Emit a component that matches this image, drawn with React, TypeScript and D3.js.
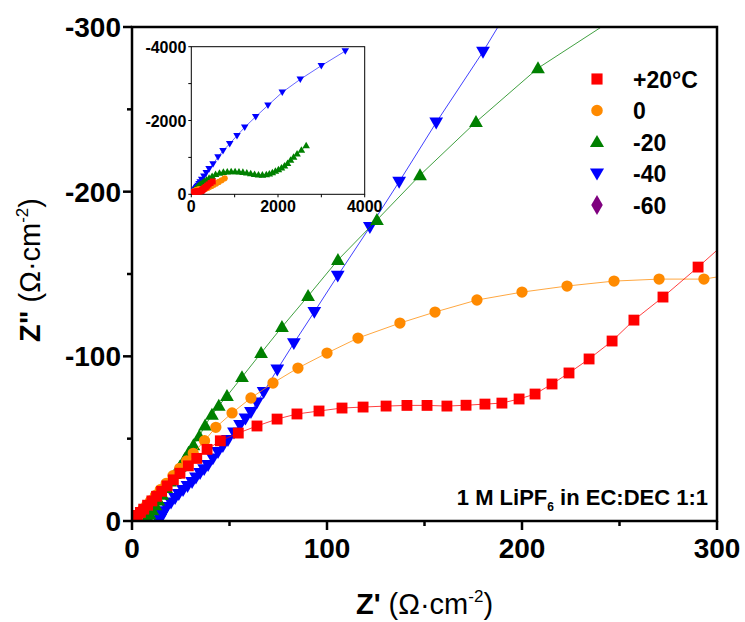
import React from "react";
import * as d3 from "d3";

type P = [number, number];

// Z' (Ω·cm-2), Z'' (Ω·cm-2; negative values)
const seriesNames = ["+20°C", "0", "-20", "-40", "-60"];
const seriesColors = ["#ff0000", "#ff8a00", "#008000", "#0000ff", "#7f007f"];
const seriesShapes = ["square", "circle", "triangle", "triangleDown", "diamond"];

const red: P[] = [
  [0.5, 0.4], [1.5, 1.8], [2.8, 3.4], [4.3, 5.2], [6, 7.2], [8, 9.6], [10.2, 12.2], [12.6, 15],
  [15.2, 18], [18, 21.3], [21.2, 25], [24.6, 29], [28.9, 33.5], [33.2, 38], [38.5, 43.5],
  [45.3, 48.7], [54.5, 53.4], [64.1, 57.7], [74.4, 61.9], [84.6, 65], [95.9, 66.8], [107.7, 68.6],
  [118.5, 69.2], [130.3, 69.8], [141, 70.2], [151.3, 70.2], [161.5, 69.8], [171.3, 70.3], [181, 71],
  [189.7, 71.6], [198.5, 74.1], [206.7, 77.1], [215.4, 83.2], [224.1, 89.9], [234.4, 98.4],
  [246.2, 109.3], [257.4, 122], [272.3, 136], [290.3, 154.2], [310, 175], [335, 200], [365, 232],
  [400, 268], [445, 305], [495, 345],
].map(([a, b]) => [a, -b] as P);

const orange: P[] = [
  [0.5, 0.3], [1.3, 1.5], [2.5, 3], [4, 5], [5.5, 7], [7.5, 9.5], [9.5, 12.2], [12, 15.5],
  [14.5, 19], [17.5, 22.8], [21, 27.5], [24.5, 32], [28, 36.5], [31.4, 41.1], [37.2, 48.8],
  [43, 56.9], [51.3, 65.6], [61, 74.7], [72.3, 83.8], [85.1, 92.9], [100, 102], [115.9, 111.1],
  [137.4, 120.2], [155.4, 126.9], [176.9, 134.2], [200, 139], [223.1, 142.7], [247.2, 145.7],
  [270.3, 146.9], [293.3, 146.9], [320, 152], [350, 163], [385, 180], [425, 202], [470, 228],
  [520, 258], [575, 295], [635, 335], [700, 380], [770, 432],
].map(([a, b]) => [a, -b] as P);

const green: P[] = [
  [7, 0.3], [8, 2], [9, 4], [10.5, 6.5], [12, 9.5], [13.5, 12.5], [15.5, 16], [17.5, 20], [19.5, 24],
  [22, 28.5], [24.5, 33], [27, 37.5], [29, 41.5], [31.5, 46], [34.5, 51.5], [37.5, 58], [41, 64.5],
  [44.5, 70], [48.7, 75.9], [56.4, 87.4], [66.2, 102], [76.9, 117.8], [90.3, 136.6], [105.6, 158.5],
  [125.6, 182.8], [147.7, 210], [176.4, 242.3], [208.2, 275], [255, 311], [300, 350], [350, 390],
  [410, 440], [480, 490], [560, 540], [650, 575], [740, 600], [830, 612], [920, 618], [1010, 618],
  [1100, 612], [1190, 600], [1280, 585], [1370, 565], [1460, 545], [1550, 530], [1640, 525],
  [1730, 535], [1800, 555], [1870, 590], [1940, 630], [2010, 670], [2080, 720], [2150, 775],
  [2220, 840], [2290, 930], [2360, 1010], [2440, 1100], [2540, 1200], [2650, 1320],
].map(([a, b]) => [a, -b] as P);

const blue: P[] = [
  [13.5, 0.3], [14.5, 1.2], [15.4, 3.6], [16.5, 6], [17.9, 8.5], [20, 11.2], [22.1, 14], [24, 16.4],
  [26.2, 18.8], [28.5, 21.2], [30.8, 23.7], [32.8, 26.4], [34.9, 29.1], [37, 31.5], [39, 34],
  [41.5, 38], [44.1, 41.9], [46.6, 45.5], [49.2, 49.2], [52.3, 53.7], [55.4, 58.3], [58.2, 62.2],
  [61, 66.2], [64, 72], [67.5, 78.3], [74.5, 92], [83, 108], [93.5, 127], [105.5, 149], [122, 178.5],
  [137, 206], [156, 242], [180, 285], [205, 334], [240, 405], [290, 490], [345, 585], [410, 690],
  [501, 820], [616, 1010], [731, 1180], [886, 1370], [1054, 1590], [1232, 1816], [1486, 2103],
  [1769, 2412], [2099, 2764], [2514, 3117], [2999, 3485], [3552, 3883],
].map(([a, b]) => [a, -b] as P);

const purple: P[] = [];

const allSeries = [red, orange, green, blue, purple];

const mainXTicks = [0, 100, 200, 300];
const mainYTicks = [0, -100, -200, -300];
const insetXTicks = [0, 2000, 4000];
const insetYTicks = [0, -2000, -4000];
const noteText = "1 M LiPF";

const FONT = "'Liberation Sans', Arial, sans-serif";

function symPath(shape: string, size: number) {
  let t: d3.SymbolType = d3.symbolSquare;
  if (shape === "circle") t = d3.symbolCircle;
  if (shape === "triangle" || shape === "triangleDown") t = d3.symbolTriangle;
  if (shape === "diamond") t = d3.symbolDiamond;
  return d3.symbol(t, size)() as string;
}

function Marker({ shape, color, cx, cy, scale }: { shape: string; color: string; cx: number; cy: number; scale: number }) {
  const base: Record<string, number> = { square: 118, circle: 100, triangle: 82, triangleDown: 82, diamond: 110 };
  const rot = shape === "triangleDown" ? " rotate(180)" : "";
  const dy = shape === "triangle" ? 1 : shape === "triangleDown" ? -1 : 0;
  return (
    <path
      d={symPath(shape, base[shape] * scale)}
      transform={`translate(${cx},${cy + dy * Math.sqrt(scale)})${rot}`}
      fill={color}
    />
  );
}

export default function App() {
  const L = 132, R = 717, T = 27, B = 521;
  const x = d3.scaleLinear().domain([0, 300]).range([L, R]);
  const y = d3.scaleLinear().domain([0, -300]).range([B, T]);
  const xi = d3.scaleLinear().domain([0, 4000]).range([191.3, 364.7]);
  const yi = d3.scaleLinear().domain([0, -4000]).range([194.3, 46.7]);

  const line = d3.line<P>().x((d) => x(d[0])).y((d) => y(d[1]));
  const linei = d3.line<P>().x((d) => xi(d[0])).y((d) => yi(d[1]));

  const minorX = d3.range(0, 301, 50);
  const minorY = d3.range(0, -301, -50);
  const minorXi = d3.range(0, 4001, 1000);
  const minorYi = d3.range(0, -4001, -1000);

  const order = [3, 2, 1, 0, 4];

  return (
    <svg width={745} height={622} style={{ position: "absolute", left: 0, top: 0, background: "#fff" }} fontFamily={FONT}>
      <defs>
        <clipPath id="mainclip">
          <rect x={L} y={T} width={R - L} height={B - T} />
        </clipPath>
        <clipPath id="insetclip">
          <rect x={xi(0)} y={yi(-4000)} width={xi(4000) - xi(0)} height={yi(0) - yi(-4000)} />
        </clipPath>
      </defs>
      <rect x={0} y={0} width={745} height={622} fill="#fff" />

      {/* main data */}
      <g clipPath="url(#mainclip)">
        {order.map((i) => (
          <g key={i}>
            <path d={line(allSeries[i]) || ""} fill="none" stroke={seriesColors[i]} strokeWidth={1} opacity={0.75} />
            {allSeries[i]
              .filter((d) => d[0] <= 300 && d[1] >= -300)
              .map((d, j) => (
                <Marker key={j} shape={seriesShapes[i]} color={seriesColors[i]} cx={x(d[0])} cy={y(d[1])} scale={1} />
              ))}
          </g>
        ))}
      </g>

      {/* main frame */}
      <rect x={L} y={T} width={R - L} height={B - T} fill="none" stroke="#000" strokeWidth={2.5} />
      {minorX.map((v) => (
        <line key={"mx" + v} x1={x(v)} x2={x(v)} y1={B} y2={B + (v % 100 === 0 ? 9 : 5)} stroke="#000" strokeWidth={2.5} />
      ))}
      {minorY.map((v) => (
        <line key={"my" + v} y1={y(v)} y2={y(v)} x1={L} x2={L - (v % 100 === 0 ? 9 : 5)} stroke="#000" strokeWidth={2.5} />
      ))}
      {mainXTicks.map((v) => (
        <text key={"tx" + v} x={x(v)} y={B + 37} textAnchor="middle" fontSize={28} fontWeight="bold">
          {String(v)}
        </text>
      ))}
      {mainYTicks.map((v) => (
        <text key={"ty" + v} x={L - 11} y={y(v) + 10} textAnchor="end" fontSize={28} fontWeight="bold">
          {String(v)}
        </text>
      ))}

      {/* axis titles */}
      <text x={(L + R) / 2} y={614} textAnchor="middle" fontSize={29}>
        <tspan fontWeight="bold">Z'</tspan>
        <tspan> (Ω·cm</tspan>
        <tspan dy={-12} fontSize={17}>-2</tspan>
        <tspan dy={12}>)</tspan>
      </text>
      <text transform={`translate(40,${(T + B) / 2 - 4}) rotate(-90)`} textAnchor="middle" fontSize={29}>
        <tspan fontWeight="bold">Z"</tspan>
        <tspan> (Ω·cm</tspan>
        <tspan dy={-12} fontSize={17}>-2</tspan>
        <tspan dy={12}>)</tspan>
      </text>

      {/* inset */}
      <rect x={xi(0)} y={yi(-4000)} width={xi(4000) - xi(0)} height={yi(0) - yi(-4000)} fill="#fff" stroke="#000" strokeWidth={1} />
      <g clipPath="url(#insetclip)">
        {order.map((i) => (
          <g key={"i" + i}>
            <path d={linei(allSeries[i]) || ""} fill="none" stroke={seriesColors[i]} strokeWidth={0.8} opacity={0.75} />
            {allSeries[i].map((d, j) => (
              <Marker key={j} shape={seriesShapes[i]} color={seriesColors[i]} cx={xi(d[0])} cy={yi(d[1])} scale={0.3} />
            ))}
          </g>
        ))}
      </g>
      {minorXi.map((v) => (
        <line key={"ix" + v} x1={xi(v)} x2={xi(v)} y1={yi(0)} y2={yi(0) + 3} stroke="#000" strokeWidth={1} />
      ))}
      {minorYi.map((v) => (
        <line key={"iy" + v} y1={yi(v)} y2={yi(v)} x1={xi(0)} x2={xi(0) - 3} stroke="#000" strokeWidth={1} />
      ))}
      {insetXTicks.map((v) => (
        <text key={"itx" + v} x={xi(v)} y={yi(0) + 18} textAnchor="middle" fontSize={16} fontWeight="bold">
          {String(v)}
        </text>
      ))}
      {insetYTicks.map((v) => (
        <text key={"ity" + v} x={xi(0) - 5} y={yi(v) + 6} textAnchor="end" fontSize={16} fontWeight="bold">
          {String(v)}
        </text>
      ))}

      {/* legend */}
      {seriesNames.map((n, i) => (
        <g key={"lg" + i} transform={`translate(597,${79 + i * 31.5})`}>
          <Marker shape={seriesShapes[i]} color={seriesColors[i]} cx={0} cy={0} scale={1.05} />
          <text x={36} y={8.5} fontSize={23} fontWeight="bold">
            {n}
          </text>
        </g>
      ))}

      {/* note */}
      <text x={708} y={505} textAnchor="end" fontSize={22} fontWeight="bold">
        {noteText}
        <tspan dy={6} fontSize={12}>6</tspan>
        <tspan dy={-6}> in EC:DEC 1:1</tspan>
      </text>
    </svg>
  );
}
